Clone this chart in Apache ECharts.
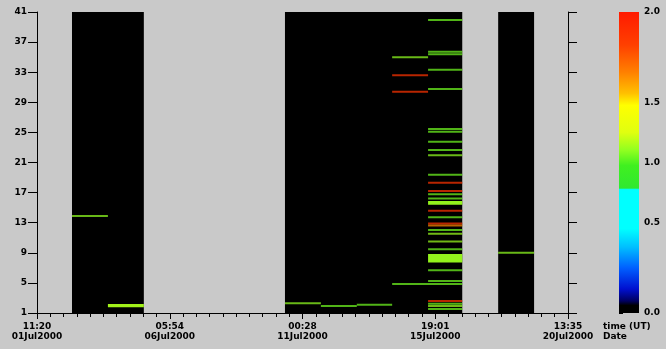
<!DOCTYPE html>
<html><head><meta charset="utf-8">
<script src="https://cdn.jsdelivr.net/npm/echarts@6/dist/echarts.min.js"></script>
<style>html,body{margin:0;padding:0;background:#c9c9c9}#c{width:666px;height:349px}</style>
</head><body><div id="c"></div>
<script>
// ---- data ----
// x: hours since 01Jul2000 11:20 UT ; y: channel (1..41) ; value: 0..2
const xTickLabels = ['11:20\n01Jul2000','05:54\n06Jul2000','00:28\n11Jul2000','19:01\n15Jul2000','13:35\n20Jul2000'];
const xStepHours = 114.5667;            // 4d 18h34m between labelled ticks
const yMin = 1, yMax = 41, yStep = 4;
const colorbarLabelY = [1, 13, 21, 29, 41];
const colorbarLabelText = ['0.0', '0.5', '1.0', '1.5', '2.0'];
const colorbarValueAtY = [0, 0.5, 1.0, 1.5, 2.0];

// data coverage (value 0 -> black)
const coverageStart = [30.2, 214.0, 398.0];
const coverageEnd   = [92.2, 367.0, 429.0];

// stripes: [xStart, xEnd, yLow, yHigh, value]
const stripesA = [
  [30.2, 61.2, 13.77, 14.03, 1.10],
  [61.2, 92.2, 1.78, 2.18, 1.15]
];
const stripesB = [
  [214.0, 245.0, 2.16, 2.42, 1.10],
  [245.0, 276.0, 1.80, 2.06, 1.05],
  [276.0, 306.5, 1.97, 2.23, 1.05],
  [306.5, 337.5, 34.87, 35.13, 1.10],
  [306.5, 337.5, 32.47, 32.73, 1.88],
  [306.5, 337.5, 30.27, 30.53, 1.88],
  [306.5, 367.0, 4.72, 4.98, 1.05]
];
const stripesC = [
  [337.5, 367.0, 39.81, 40.07, 1.05],
  [337.5, 367.0, 35.59, 35.85, 1.05],
  [337.5, 367.0, 35.25, 35.51, 1.05],
  [337.5, 367.0, 33.20, 33.46, 1.05],
  [337.5, 367.0, 30.64, 30.90, 1.05],
  [337.5, 367.0, 25.32, 25.58, 1.05],
  [337.5, 367.0, 24.96, 25.22, 1.05],
  [337.5, 367.0, 23.63, 23.89, 1.05],
  [337.5, 367.0, 22.53, 22.79, 1.05],
  [337.5, 367.0, 21.83, 22.09, 1.10],
  [337.5, 367.0, 19.25, 19.51, 1.05],
  [337.5, 367.0, 18.19, 18.45, 1.88],
  [337.5, 367.0, 17.08, 17.34, 1.88],
  [337.5, 367.0, 16.64, 16.90, 1.05],
  [337.5, 367.0, 16.09, 16.35, 1.05],
  [337.5, 367.0, 15.40, 15.87, 1.12],
  [337.5, 367.0, 14.46, 14.72, 1.88],
  [337.5, 367.0, 13.59, 13.85, 1.05],
  [337.5, 367.0, 12.76, 13.02, 1.88],
  [337.5, 367.0, 12.50, 12.76, 1.65],
  [337.5, 367.0, 11.90, 12.16, 1.05],
  [337.5, 367.0, 11.41, 11.67, 1.12],
  [337.5, 367.0, 10.37, 10.63, 1.12],
  [337.5, 367.0, 9.34, 9.60, 1.05],
  [337.5, 367.0, 7.71, 8.84, 1.12],
  [337.5, 367.0, 6.54, 6.80, 1.05],
  [337.5, 367.0, 5.12, 5.38, 1.05],
  [337.5, 367.0, 2.46, 2.72, 1.88],
  [337.5, 367.0, 2.11, 2.37, 1.05],
  [337.5, 367.0, 1.80, 2.06, 1.12],
  [337.5, 367.0, 1.40, 1.66, 1.05]
];
const stripesD = [
  [398.0, 429.0, 8.87, 9.13, 1.10]
];

// ---- colour scale (position from top of bar 0..1) ----
const colorStops = [
  [0.00,'#ff1a00'],[0.11,'#ff4000'],[0.20,'#ff8000'],[0.27,'#ffc000'],[0.31,'#ffff00'],
  [0.40,'#e0ff10'],[0.46,'#90ff20'],[0.51,'#40f020'],[0.585,'#30e830'],[0.59,'#00ffff'],
  [0.72,'#00ffff'],[0.78,'#00c0ff'],[0.85,'#0060ff'],[0.92,'#0010d0'],[0.96,'#000060'],
  [0.975,'#000000'],[1.00,'#000000']
];
function hex(c){return [parseInt(c.substr(1,2),16),parseInt(c.substr(3,2),16),parseInt(c.substr(5,2),16)];}
function fracForValue(v){
  const fr = colorbarLabelY.map(y => (yMax - y)/(yMax - yMin));
  for (let i=0;i<colorbarValueAtY.length-1;i++){
    const a=colorbarValueAtY[i], b=colorbarValueAtY[i+1];
    if (v>=a && v<=b){ const t=(v-a)/(b-a); return fr[i]+(fr[i+1]-fr[i])*t; }
  }
  return v<=0?1:0;
}
function colorAt(f){
  for (let i=0;i<colorStops.length-1;i++){
    const [fa,ca]=colorStops[i],[fb,cb]=colorStops[i+1];
    if (f>=fa && f<=fb){
      const t=fb===fa?0:(f-fa)/(fb-fa); const A=hex(ca),B=hex(cb);
      return 'rgb('+A.map((x,k)=>Math.round(x+(B[k]-x)*t)).join(',')+')';
    }
  }
  return colorStops[colorStops.length-1][1];
}
function colorFor(v){return colorAt(fracForValue(v));}

// ---- chart ----
const chart = echarts.init(document.getElementById('c'), null, {renderer:'canvas'});
const FONT = 'DejaVu Sans';
const xMax = xStepHours*(xTickLabels.length-1);
const stripes = [].concat(stripesA, stripesB, stripesC, stripesD);
const coverage = coverageStart.map((s,i)=>[s, coverageEnd[i]]);

const option = {
  backgroundColor:'#c9c9c9',
  animation:false,
  grid:[
    {left:37, right:98, top:12, bottom:36},
    {left:619, right:27, top:12, bottom:36}
  ],
  xAxis:[
    {type:'value', gridIndex:0, min:0, max:xMax, interval:xStepHours,
     axisLine:{show:true, lineStyle:{color:'#000', width:1}},
     axisTick:{show:true, length:6, lineStyle:{color:'#000'}},
     minorTick:{show:true, splitNumber:10, length:4, lineStyle:{color:'#000'}},
     splitLine:{show:false},
     axisLabel:{show:true, margin:9, color:'#000', fontFamily:FONT, fontSize:9, fontWeight:'bold', lineHeight:10,
       formatter:function(v){return xTickLabels[Math.round(v/xStepHours)]||'';}}},
    {type:'value', gridIndex:1, min:0, max:1, show:false}
  ],
  yAxis:[
    {type:'value', gridIndex:0, min:0, max:yMax-yMin, interval:yStep, position:'left',
     axisLine:{show:true, lineStyle:{color:'#000', width:1}},
     axisTick:{show:true, length:9, lineStyle:{color:'#000'}},
     splitLine:{show:false},
     axisLabel:{margin:10, color:'#000', fontFamily:FONT, fontSize:9, fontWeight:'bold',
       formatter:function(v){return String(Math.round(v+yMin));}}},
    {type:'value', gridIndex:0, min:0, max:yMax-yMin, interval:yStep, position:'right',
     axisLine:{show:true, onZero:false, lineStyle:{color:'#000', width:1}},
     axisTick:{show:true, length:9, lineStyle:{color:'#000'}},
     splitLine:{show:false}, axisLabel:{show:false}},
    {type:'value', gridIndex:1, min:0, max:yMax-yMin, interval:yStep, position:'right',
     axisLine:{show:false},
     axisTick:{show:true, length:4, lineStyle:{color:'#000'}},
     splitLine:{show:false},
     axisLabel:{margin:5, color:'#000', fontFamily:FONT, fontSize:9, fontWeight:'bold',
       formatter:function(v){const i=colorbarLabelY.indexOf(Math.round(v+yMin));return i>=0?colorbarLabelText[i]:'';}}}
  ],
  series:[
    {type:'custom', xAxisIndex:0, yAxisIndex:0, data:coverage, encode:{x:[0,1]}, silent:true,
     renderItem:function(params, api){
       const p0=api.coord([api.value(0), yMax-yMin]);
       const p1=api.coord([api.value(1), 0]);
       return {type:'rect', shape:{x:p0[0], y:p0[1], width:p1[0]-p0[0], height:p1[1]-p0[1]},
               style:{fill:colorFor(0)}};
     }},
    {type:'custom', xAxisIndex:0, yAxisIndex:0, data:stripes, encode:{x:[0,1], y:[2,3]}, silent:true,
     renderItem:function(params, api){
       const p0=api.coord([api.value(0), api.value(3)-yMin]);
       const p1=api.coord([api.value(1), api.value(2)-yMin]);
       const h=Math.max(1.5, p1[1]-p0[1]);
       return {type:'rect', shape:{x:p0[0], y:p0[1], width:p1[0]-p0[0], height:h},
               style:{fill:colorFor(api.value(4)), opacity:h>2.5?0.95:0.72}};
     }},
    {type:'custom', xAxisIndex:1, yAxisIndex:2, data:[[0,1]], silent:true,
     renderItem:function(params, api){
       const p0=api.coord([0, yMax-yMin]);
       const p1=api.coord([1, 0]);
       return {type:'rect', shape:{x:p0[0], y:p0[1], width:p1[0]-p0[0], height:p1[1]-p0[1]},
               style:{fill:new echarts.graphic.LinearGradient(0,0,0,1,
                 colorStops.map(s=>({offset:s[0], color:s[1]})))}};
     }}
  ],
  graphic:[
    {type:'text', left:603, top:322, style:{text:'time (UT)\nDate', fill:'#000', font:'bold 9px "DejaVu Sans"', lineHeight:10}}
  ]
};
chart.setOption(option);
</script>
</body></html>
